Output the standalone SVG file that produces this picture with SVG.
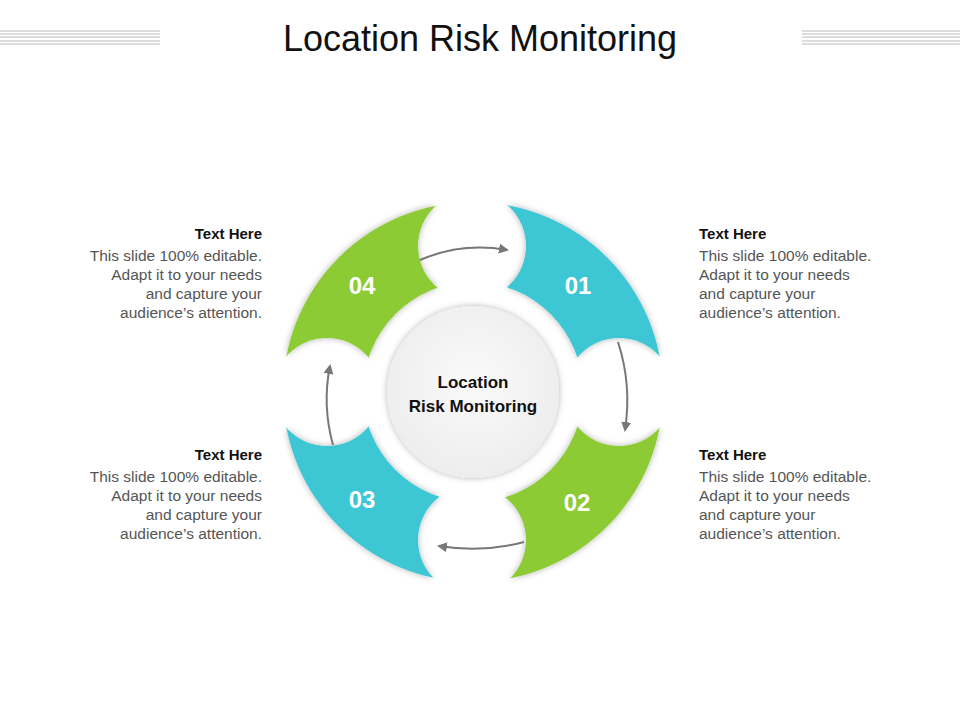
<svg xmlns="http://www.w3.org/2000/svg" width="960" height="720" viewBox="0 0 960 720">
<defs>
<style>
text{font-family:"Liberation Sans",Arial,sans-serif}
.h{font-size:15px;font-weight:bold;fill:#111}
.b{font-size:15.5px;fill:#555}
.n{font-size:24px;font-weight:bold;fill:#fff;text-anchor:middle}
.ln{stroke:#bbb;stroke-width:1}
.arr{fill:none;stroke:#777;stroke-width:2;marker-end:url(#ah)}
</style>
<marker id="ah" viewBox="0 0 10 10" refX="8" refY="5" markerWidth="5" markerHeight="5" orient="auto"><path d="M0,0L10,5L0,10z" fill="#777"/></marker>
<filter id="sh" x="-30%" y="-30%" width="160%" height="160%"><feDropShadow dx="0" dy="0" stdDeviation="3" flood-color="#000" flood-opacity="0.3"/></filter>
<mask id="cut"><rect width="960" height="720" fill="#fff"/><g fill="#000"><circle cx="472" cy="246" r="54"/><circle cx="619" cy="392" r="54"/><circle cx="472" cy="540" r="54"/><circle cx="327" cy="392" r="54"/></g></mask>
<radialGradient id="cg" cx="0.5" cy="0.45" r="0.6"><stop offset="0" stop-color="#fafafa"/><stop offset="1" stop-color="#ececec"/></radialGradient>
</defs>
<rect width="960" height="720" fill="#fff"/>
<g id="title">
<g class="ln"><line x1="0" y1="31" x2="160" y2="31"/><line x1="0" y1="34" x2="160" y2="34"/><line x1="0" y1="37" x2="160" y2="37"/><line x1="0" y1="41" x2="160" y2="41"/><line x1="0" y1="44" x2="160" y2="44"/>
<line x1="802" y1="31" x2="960" y2="31"/><line x1="802" y1="34" x2="960" y2="34"/><line x1="802" y1="37" x2="960" y2="37"/><line x1="802" y1="41" x2="960" y2="41"/><line x1="802" y1="44" x2="960" y2="44"/></g>
<text x="480" y="51" font-size="36" text-anchor="middle" fill="#111" style="font-family:'Liberation Sans Narrow','Liberation Sans',sans-serif">Location Risk Monitoring</text>
</g>
<g id="ring" filter="url(#sh)"><g mask="url(#cut)">
<path id="seg01" d="M473,202 A190,190 0 0 1 663,392 L583,392 A110,110 0 0 0 473,282 Z" fill="#3EC6D4"/>
<path id="seg02" d="M663,392 A190,190 0 0 1 473,582 L473,502 A110,110 0 0 0 583,392 Z" fill="#8DCB35"/>
<path id="seg03" d="M473,582 A190,190 0 0 1 283,392 L363,392 A110,110 0 0 0 473,502 Z" fill="#3EC6D4"/>
<path id="seg04" d="M283,392 A190,190 0 0 1 473,202 L473,282 A110,110 0 0 0 363,392 Z" fill="#8DCB35"/>
</g></g>
<g id="center"><circle cx="473" cy="392" r="86" fill="url(#cg)" filter="url(#sh)"/>
<text x="473" y="388" font-size="17" font-weight="bold" text-anchor="middle" fill="#111">Location</text>
<text x="473" y="412" font-size="17" font-weight="bold" text-anchor="middle" fill="#111">Risk Monitoring</text></g>
<g id="n01"><text class="n" x="578" y="294">01</text></g>
<g id="n02"><text class="n" x="577" y="511">02</text></g>
<g id="n03"><text class="n" x="362" y="508">03</text></g>
<g id="n04"><text class="n" x="362" y="294">04</text></g>
<g id="connectors">
<path class="arr" d="M420,260 Q462,242 507,250"/>
<path class="arr" d="M618,342 Q632,385 625,430"/>
<path class="arr" d="M524,542 Q482,553 439,546"/>
<path class="arr" d="M333,445 Q322,405 330,366"/>
</g>
<g id="t1"><text class="h" x="699" y="239">Text Here</text><text class="b" x="699" y="261">This slide 100% editable.</text><text class="b" x="699" y="280">Adapt it to your needs</text><text class="b" x="699" y="299">and capture your</text><text class="b" x="699" y="318">audience’s attention.</text></g>
<g id="t2"><text class="h" x="699" y="460">Text Here</text><text class="b" x="699" y="482">This slide 100% editable.</text><text class="b" x="699" y="501">Adapt it to your needs</text><text class="b" x="699" y="520">and capture your</text><text class="b" x="699" y="539">audience’s attention.</text></g>
<g id="t4" text-anchor="end"><text class="h" x="262" y="239">Text Here</text><text class="b" x="262" y="261">This slide 100% editable.</text><text class="b" x="262" y="280">Adapt it to your needs</text><text class="b" x="262" y="299">and capture your</text><text class="b" x="262" y="318">audience’s attention.</text></g>
<g id="t3" text-anchor="end"><text class="h" x="262" y="460">Text Here</text><text class="b" x="262" y="482">This slide 100% editable.</text><text class="b" x="262" y="501">Adapt it to your needs</text><text class="b" x="262" y="520">and capture your</text><text class="b" x="262" y="539">audience’s attention.</text></g>
</svg>
